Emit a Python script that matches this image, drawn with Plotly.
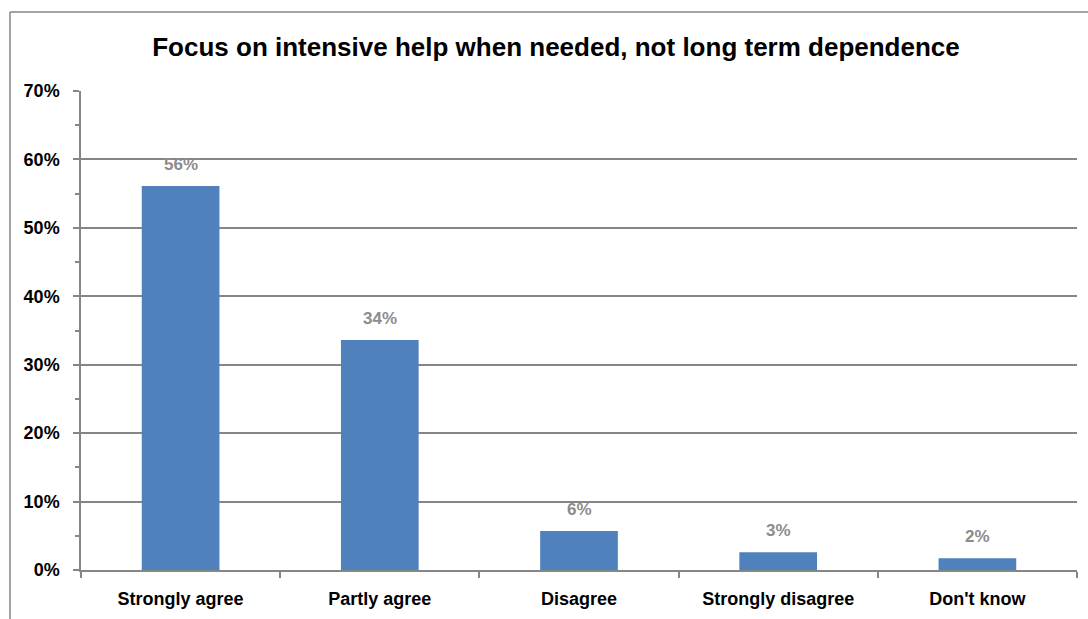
import plotly.graph_objects as go

categories = ["Strongly agree", "Partly agree", "Disagree", "Strongly disagree", "Don't know"]
values = [56.1, 33.6, 5.7, 2.6, 1.7]
labels = ["56%", "34%", "6%", "3%", "2%"]
y_ticks = [0, 10, 20, 30, 40, 50, 60, 70]
y_tick_labels = ["0%", "10%", "20%", "30%", "40%", "50%", "60%", "70%"]
title = "Focus on intensive help when needed, not long term dependence"

FONT = "Liberation Sans"
W, H = 1088, 619
L, R, T, B = 81, 1077, 91, 570

fig = go.Figure()
fig.add_trace(go.Bar(
    x=categories, y=values, marker=dict(color="#4f81bd", line=dict(width=0)),
    width=0.39, hoverinfo="skip",
))

for c, v, t in zip(categories, values, labels):
    fig.add_annotation(x=c, y=v, text=t, showarrow=False, yshift=22,
                       font=dict(family=FONT, size=17, color="#8c8c8c", weight="bold"))

# outer chart border (left and top edges visible)
px = lambda x: (x - L) / (R - L)
py = lambda y: (B - y) / (B - T)
fig.add_shape(type="line", xref="paper", yref="paper", x0=px(10), x1=px(1100), y0=py(12), y1=py(12),
              line=dict(color="#868686", width=1.5))
fig.add_shape(type="line", xref="paper", yref="paper", x0=px(10), x1=px(10), y0=py(12), y1=py(640),
              line=dict(color="#868686", width=1.5))

fig.update_layout(
    width=W, height=H,
    margin=dict(l=L, r=W - R, t=T, b=H - B),
    paper_bgcolor="white", plot_bgcolor="white",
    showlegend=False,
    title=dict(text=title, x=(556) / W, xanchor="center", y=1 - 47 / H, yanchor="middle",
               font=dict(family=FONT, size=26, color="black", weight="bold")),
    bargap=0.61,
)
fig.update_xaxes(
    showline=True, linecolor="#868686", linewidth=1.5,
    ticks="outside", ticklen=6, tickcolor="#868686", tickwidth=1.5,
    tickson="boundaries",
    showgrid=False,
    ticklabelstandoff=12,
    tickfont=dict(family=FONT, size=18, color="black", weight="bold"),
    range=[-0.5, 4.5],
)
fig.update_yaxes(
    range=[0, 70], tickvals=y_ticks, ticktext=y_tick_labels,
    showline=True, linecolor="#868686", linewidth=1.5,
    showgrid=True, gridcolor="#868686", gridwidth=1.5,
    ticks="outside", ticklen=6, tickcolor="#868686", tickwidth=1.5,
    minor=dict(dtick=5, ticks="outside", ticklen=4, tickcolor="#868686", tickwidth=1.5, showgrid=False),
    ticklabelstandoff=10,
    tickfont=dict(family=FONT, size=18, color="black", weight="bold"),
    zeroline=False,
)

fig.write_html("out.html")
